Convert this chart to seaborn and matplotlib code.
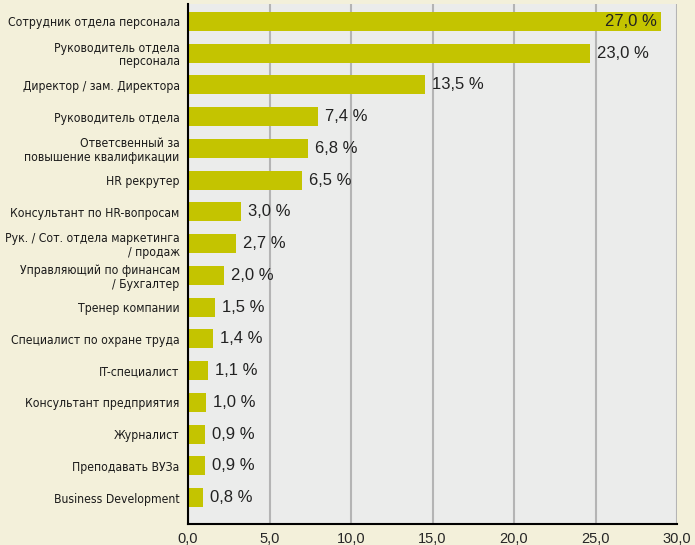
import pandas as pd
import matplotlib.pyplot as plt
import seaborn as sns

# Data
roles = [
    'Сотрудник отдела персонала',
    'Руководитель отдела\nперсонала',
    'Директор / зам. Директора',
    'Руководитель отдела',
    'Ответсвенный за\nповышение квалификации',
    'HR рекрутер',
    'Консультант по HR-вопросам',
    'Рук. / Сот. отдела маркетинга\n/ продаж',
    'Управляющий по финансам\n/ Бухгалтер',
    'Тренер компании',
    'Специалист по охране труда',
    'IT-специалист',
    'Консультант предприятия',
    'Журналист',
    'Преподавать ВУЗа',
    'Business Development',
]
# bar lengths as drawn in the picture
bar_len = [29.0, 24.65, 14.55, 7.95, 7.35, 7.0, 3.25, 2.95, 2.2, 1.65, 1.52, 1.22, 1.1, 1.04, 1.04, 0.92]
# printed labels
pct = [27.0, 23.0, 13.5, 7.4, 6.8, 6.5, 3.0, 2.7, 2.0, 1.5, 1.4, 1.1, 1.0, 0.9, 0.9, 0.8]
x_ticks = [0, 5, 10, 15, 20, 25, 30]

df = pd.DataFrame({'role': roles, 'len': bar_len, 'pct': pct})

sns.set_style('white')
plt.rcParams['font.family'] = ['Liberation Sans', 'DejaVu Sans']

fig = plt.figure(figsize=(6.95, 5.45), dpi=100, facecolor='#f3f0da')
ax = fig.add_axes([188 / 695, 1 - 524 / 545, 489 / 695, 520 / 545])
ax.set_facecolor('#ebeceb')

sns.barplot(data=df, x='len', y='role', orient='h', color='#c4c400',
            saturation=1, width=0.6, linewidth=0, ax=ax, zorder=3)

ax.set_xlim(0, 30)
ax.set_ylim(15.835, -0.55)
ax.set_xticks(x_ticks)
ax.set_xticklabels([f'{t:.1f}'.replace('.', ',') for t in x_ticks], fontsize=10.5)
ax.grid(axis='x', color='#b4b4b4', linewidth=1.5, zorder=0)
ax.grid(axis='y', visible=False)
ax.set_xlabel('')
ax.set_ylabel('')

for s in ['top', 'right']:
    ax.spines[s].set_visible(False)
for s in ['left', 'bottom']:
    ax.spines[s].set_color('black')
    ax.spines[s].set_linewidth(1.5)
    ax.spines[s].set_zorder(5)

ax.tick_params(axis='x', direction='out', length=4, width=1.2, color='black', pad=2)
ax.tick_params(axis='y', length=0, pad=6)
for lbl in ax.get_yticklabels():
    lbl.set_fontfamily('DejaVu Sans')
    lbl.set_fontstretch('condensed')
    lbl.set_fontsize(8.7)
    lbl.set_linespacing(1.08)
    lbl.set_color('#1a1a1a')

for i, (L, p) in enumerate(zip(bar_len, pct)):
    txt = f'{p:.1f}'.replace('.', ',') + ' %'
    if i == 0:
        ax.text(L - 0.25, i, txt, ha='right', va='center', fontsize=12, color='#222222', zorder=6)
    else:
        ax.text(L + 0.45, i, txt, ha='left', va='center', fontsize=12, color='#222222', zorder=6)

fig.savefig('out.png', dpi=100, facecolor=fig.get_facecolor())
